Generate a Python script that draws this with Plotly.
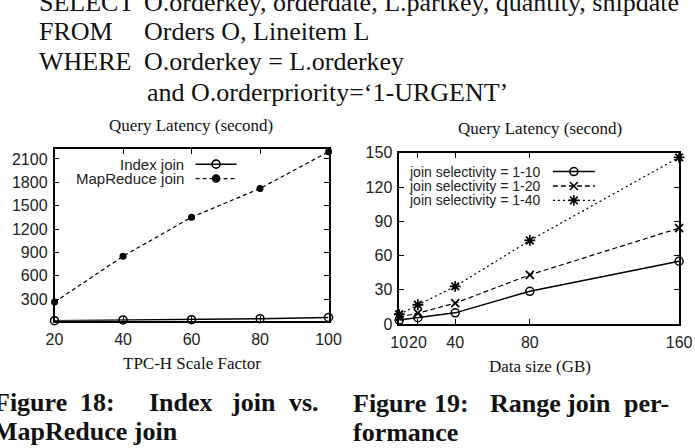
import plotly.graph_objects as go

W, H = 695, 448

# ---------------- data ----------------
scale_factor = [20, 40, 60, 80, 100]
index_join = [25, 34, 38, 50, 66]
mapreduce_join = [263, 851, 1352, 1721, 2192]

data_size = [10, 20, 40, 80, 160]
sel_1_10 = [3.5, 5.6, 9.8, 28.7, 55]
sel_1_20 = [6, 9.5, 18.3, 43.1, 84]
sel_1_40 = [8.5, 16.9, 33, 73.2, 146]

left_yticks = [300, 600, 900, 1200, 1500, 1800, 2100]
right_yticks = [0, 30, 60, 90, 120, 150]

SERIF = "Liberation Serif"
SANS = "Liberation Sans"


def px(x):
    return x / W


def py(y):
    return 1 - y / H


fig = go.Figure()

lw = 1.5
# left chart
fig.add_trace(go.Scatter(x=scale_factor, y=index_join, mode="lines+markers",
                         line=dict(color="black", width=lw),
                         marker=dict(symbol="circle-open", size=8, color="black", line=dict(width=1.5)),
                         xaxis="x", yaxis="y", showlegend=False, cliponaxis=False))
fig.add_trace(go.Scatter(x=scale_factor, y=mapreduce_join, mode="lines+markers",
                         line=dict(color="black", width=1.2, dash="4px,3px"),
                         marker=dict(symbol="circle", size=7, color="black"),
                         xaxis="x", yaxis="y", showlegend=False, cliponaxis=False))
# right chart
fig.add_trace(go.Scatter(x=data_size, y=sel_1_10, mode="lines+markers",
                         line=dict(color="black", width=lw),
                         marker=dict(symbol="circle-open", size=8, color="black", line=dict(width=1.5)),
                         xaxis="x2", yaxis="y2", showlegend=False, cliponaxis=False))
fig.add_trace(go.Scatter(x=data_size, y=sel_1_20, mode="lines+markers",
                         line=dict(color="black", width=1.2, dash="5px,3px"),
                         marker=dict(symbol="x-thin-open", size=8, color="black", line=dict(width=1.8)),
                         xaxis="x2", yaxis="y2", showlegend=False, cliponaxis=False))
fig.add_trace(go.Scatter(x=data_size, y=sel_1_40, mode="lines+markers",
                         line=dict(color="black", width=1.2, dash="2px,3px"),
                         marker=dict(symbol="asterisk-open", size=9, color="black", line=dict(width=1.8)),
                         xaxis="x2", yaxis="y2", showlegend=False, cliponaxis=False))

# ---------------- custom gnuplot-style legend samples (overlay pixel axes) ----------------
legend_items = [
    (192.7, 235, 162.3, "solid", "circle-open", 8),
    (192.7, 235, 177.3, "4px,3px", "circle", 7),
    (561.7, 605, 170, "solid", "circle-open", 8),
    (561.7, 605, 185, "5px,3px", "x-thin-open", 8),
    (561.7, 605, 200, "2px,3px", "asterisk-open", 9),
]
for x0, x1, yy, dash, sym, sz in legend_items:
    fig.add_trace(go.Scatter(x=[x0, x1], y=[yy, yy], mode="lines",
                             line=dict(color="black", width=1.3 if dash != "solid" else lw, dash=dash),
                             xaxis="x3", yaxis="y3", showlegend=False, hoverinfo="skip"))
    fig.add_trace(go.Scatter(x=[(x0 + x1) / 2], y=[yy], mode="markers",
                             marker=dict(symbol=sym, size=sz, color="black", line=dict(width=1.6, color="black")),
                             xaxis="x3", yaxis="y3", showlegend=False, hoverinfo="skip"))

axis_common = dict(showgrid=False, zeroline=False, showline=True, linecolor="black", linewidth=1.5,
                   mirror="ticks", ticks="inside", ticklen=5, tickwidth=1, tickcolor="black",
                   tickangle=0, ticklabeloverflow="allow",
                   tickfont=dict(family=SANS, size=16, color="#222"))

fig.update_layout(
    width=W, height=H,
    margin=dict(l=0, r=0, t=0, b=0),
    paper_bgcolor="white", plot_bgcolor="rgba(0,0,0,0)",
    xaxis=dict(domain=[px(47), px(330)], range=[20, 100], tickvals=scale_factor, anchor="y",
               ticklabelstandoff=3, **axis_common),
    yaxis=dict(domain=[py(325), py(147)], range=[25, 2222], tickvals=left_yticks, anchor="x",
               ticklabelstandoff=2, **axis_common),
    xaxis2=dict(domain=[px(403), px(692)], range=[10, 160], tickvals=data_size, anchor="y2",
                ticklabelstandoff=3, **axis_common),
    yaxis2=dict(domain=[py(328.5), py(150.5)], range=[0, 150], tickvals=right_yticks, anchor="x2",
                ticklabelstandoff=2, **axis_common),
    xaxis3=dict(domain=[0, 1], range=[0, W], visible=False, anchor="y3"),
    yaxis3=dict(domain=[0, 1], range=[H, 0], visible=False, anchor="x3"),
    showlegend=False,
)

annotations = []


def text(x, y, s, size, family=SERIF, xanchor="left", bold=False, color="#111"):
    if bold:
        s = "<b>" + s + "</b>"
    annotations.append(dict(x=px(x), y=py(y), xref="paper", yref="paper", text=s, showarrow=False,
                            xanchor=xanchor, yanchor="middle",
                            font=dict(family=family, size=size, color=color)))


# SQL text
TOP = 26
text(29, -6, "SELECT", TOP)
text(137, -6, "O.orderkey, orderdate, L.partkey, quantity, shipdate", TOP)
text(29, 24.5, "FROM", TOP)
text(137, 24.5, "Orders O, Lineitem L", TOP)
text(29, 56, "WHERE", TOP)
text(137, 56, "O.orderkey = L.orderkey", TOP)
text(140, 87.5, "and O.orderpriority=‘1-URGENT’", TOP)

# chart titles
text(188.3, 122.5, "Query Latency (second)", 17, xanchor="center")
text(548.3, 125, "Query Latency (second)", 17, xanchor="center")
# axis titles
text(188.5, 370, "TPC-H Scale Factor", 17, xanchor="center")
text(548.7, 372.5, "Data size (GB)", 17, xanchor="center")

# legend texts
text(183, 162.3, "Index join", 15, family=SANS, xanchor="right", color="#222")
text(183, 177.3, "MapReduce join", 15, family=SANS, xanchor="right", color="#222")
text(551.7, 170, "join selectivity = 1-10", 14, family=SANS, xanchor="right", color="#222")
text(551.7, 185, "join selectivity = 1-20", 14, family=SANS, xanchor="right", color="#222")
text(551.7, 200, "join selectivity = 1-40", 14, family=SANS, xanchor="right", color="#222")

# captions
CAP = 26
text(61.7, 410.5, "Figure", CAP, xanchor="right", bold=True)
text(71.7, 410.5, "18:", CAP, bold=True)
text(143, 410.5, "Index", CAP, bold=True)
text(227, 410.5, "join", CAP, bold=True)
text(287, 410.5, "vs.", CAP, bold=True)
text(177, 440, "MapReduce join", CAP, xanchor="right", bold=True)

text(352.7, 411.5, "Figure", CAP, bold=True)
text(436.7, 411.5, "19:", CAP, bold=True)
text(495, 411.5, "Range", CAP, bold=True)
text(573, 411.5, "join", CAP, bold=True)
text(633, 411.5, "per-", CAP, bold=True)
text(352.7, 441.5, "formance", CAP, bold=True)

fig.update_layout(annotations=annotations)

fig.write_html("out.html")
